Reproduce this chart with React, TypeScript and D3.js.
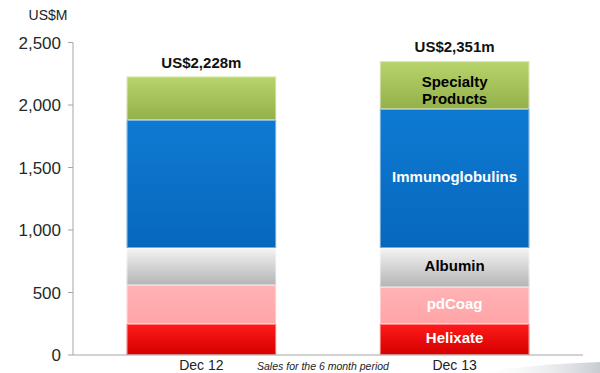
import React from 'react';
import { scaleLinear, scaleBand, stack } from 'd3';

const width = 600;
const height = 373;

const periods = ['Dec 12', 'Dec 13'];
const segments = ['Helixate', 'pdCoag', 'Albumin', 'Immunoglobulins', 'Specialty Products'];
const helixate = [248, 248];
const pdCoag = [312, 296];
const albumin = [296, 312];
const immunoglobulins = [1024, 1112];
const specialty = [348, 383];
const totals = ['US$2,228m', 'US$2,351m'];
const yTicks = [0, 500, 1000, 1500, 2000, 2500];

// gradient stops per segment (top, bottom)
const fills: Record<string, [string, string]> = {
  Helixate: ['#ff1a1a', '#d40000'],
  pdCoag: ['#ffb3b5', '#ffa4a7'],
  Albumin: ['#f4f4f4', '#b4b4b4'],
  Immunoglobulins: ['#0f7ad2', '#0668bd'],
  'Specialty Products': ['#b8d46c', '#93b04a'],
};
const labelColor: Record<string, string> = {
  Helixate: '#ffffff',
  pdCoag: '#ffffff',
  Albumin: '#000000',
  Immunoglobulins: '#ffffff',
  'Specialty Products': '#000000',
};

const margin = { left: 73, right: 17, top: 42.5, bottom: 18 };

const App = () => {
  const rows = periods.map((p, i) => ({
    period: p,
    Helixate: helixate[i],
    pdCoag: pdCoag[i],
    Albumin: albumin[i],
    Immunoglobulins: immunoglobulins[i],
    'Specialty Products': specialty[i],
  }));
  const series = stack<any>().keys(segments)(rows);

  const y = scaleLinear().domain([0, 2500]).range([height - margin.bottom, margin.top]);
  const x = scaleBand()
    .domain(periods)
    .range([margin.left, width - margin.right])
    .paddingInner(0.41)
    .paddingOuter(0.212);

  const font = '"Liberation Sans", Arial, sans-serif';

  return (
    <svg width={width} height={height} style={{ position: 'absolute', left: 0, top: 0, background: '#fff' }}>
      <defs>
        {segments.map((s, i) => (
          <linearGradient key={s} id={`g${i}`} x1="0" y1="0" x2="0" y2="1">
            <stop offset="0" stopColor={fills[s][0]} />
            <stop offset="1" stopColor={fills[s][1]} />
          </linearGradient>
        ))}
        <linearGradient id="swoosh" x1="0" y1="0" x2="1" y2="0">
          <stop offset="0" stopColor="#ffffff" stopOpacity="0" />
          <stop offset="1" stopColor="#c8ccd2" stopOpacity="1" />
        </linearGradient>
      </defs>

      {/* decorative swoosh bottom right */}
      <path d="M470,373 Q540,364 600,362 L600,373 Z" fill="url(#swoosh)" />

      <text x={48} y={20} fontFamily={font} fontSize={14} textAnchor="middle" fill="#222">US$M</text>

      {/* y axis */}
      <line x1={margin.left} x2={margin.left} y1={y(2500)} y2={y(0)} stroke="#a6a6a6" />
      {yTicks.map(t => (
        <g key={t}>
          <line x1={margin.left - 5} x2={margin.left} y1={y(t)} y2={y(t)} stroke="#a6a6a6" />
          <text x={61} y={y(t) + 6} fontFamily={font} fontSize={17} textAnchor="end" fill="#1f2a2a">
            {t.toLocaleString('en-US')}
          </text>
        </g>
      ))}

      {/* bars */}
      {series.map((s, i) => (
        <g key={s.key}>
          {s.map((d: any) => {
            const bx = x(d.data.period)!;
            const y0 = y(d[1]);
            const h = y(d[0]) - y(d[1]);
            return (
              <g key={d.data.period}>
                <rect x={bx} y={y0} width={x.bandwidth()} height={h} fill={`url(#g${i})`} />
                <rect x={bx + 0.5} y={y0 + 0.5} width={x.bandwidth() - 1} height={h - 1} fill="none" stroke="#ffffff" strokeOpacity={0.45} />
              </g>
            );
          })}
        </g>
      ))}

      {/* segment labels on Dec 13 */}
      {series.map(s => {
        const d: any = s[1];
        const cx = x(d.data.period)! + x.bandwidth() / 2;
        const cy = (y(d[0]) + y(d[1])) / 2;
        const lines = s.key === 'Specialty Products' ? ['Specialty', 'Products'] : [s.key];
        return (
          <text key={s.key} x={cx} y={cy} fontFamily={font} fontSize={15} fontWeight="bold" textAnchor="middle" fill={labelColor[s.key]}>
            {lines.map((l, k) => (
              <tspan key={l} x={cx} dy={k === 0 ? (lines.length === 1 ? 3 : 2) : 17}>{l}</tspan>
            ))}
          </text>
        );
      })}

      {/* totals */}
      {series[series.length - 1].map((d: any, i: number) => (
        <text key={i} x={x(d.data.period)! + x.bandwidth() / 2} y={y(d[1]) - 9} fontFamily={font} fontSize={15} fontWeight="bold" textAnchor="middle" fill="#111">
          {totals[i]}
        </text>
      ))}

      {/* x axis */}
      <line x1={margin.left} x2={583} y1={y(0)} y2={y(0)} stroke="#a6a6a6" />
      {periods.map(p => (
        <text key={p} x={x(p)! + x.bandwidth() / 2} y={370} fontFamily={font} fontSize={14} textAnchor="middle" fill="#222">{p}</text>
      ))}
      <text x={323} y={370} fontFamily={font} fontSize={10.5} fontStyle="italic" textAnchor="middle" fill="#222">
        Sales for the 6 month period
      </text>
    </svg>
  );
};

export default App;
